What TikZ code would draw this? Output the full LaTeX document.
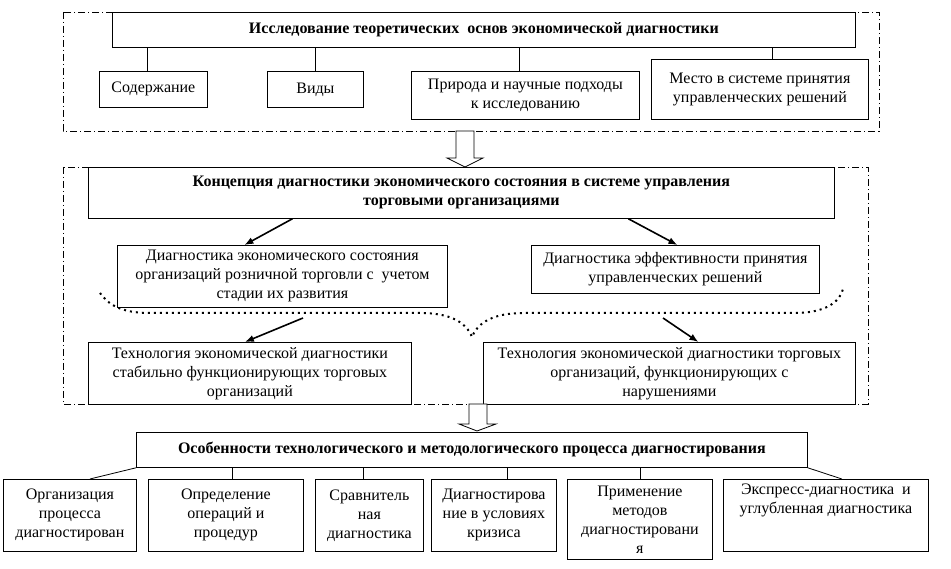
\documentclass[tikz,border=0pt]{standalone}
\usepackage{fontspec}
\setmainfont{Liberation Serif}
\usetikzlibrary{positioning,arrows.meta}

\begin{document}
\begin{tikzpicture}[x=1pt,y=-1pt,
box/.style={draw,rectangle,line width=.8pt,fill=white,inner sep=2pt,align=center,anchor=north west,font=\fontsize{16}{19}\selectfont},
headbox/.style={box,font=\fontsize{16}{19}\selectfont\bfseries},
frame/.style={line width=.8pt,dash pattern=on 7pt off 3pt on 1pt off 3pt},
link/.style={line width=.8pt},
pointer/.style={line width=1.6pt,-{Latex[length=9pt,width=7pt]}},
dotline/.style={line width=2pt,dash pattern=on 2pt off 4pt},
blockarrow/.style={draw,line width=.8pt,fill=white}]
\useasboundingbox (0,0) rectangle (951,569);

% frames
\draw[frame] (63,12) rectangle (879,131);
\draw[frame] (63,167) rectangle (868,404);

% theory
\node (theory) [headbox,minimum width=743,minimum height=35] at (112,12) {Исследование теоретических\ \ основ экономической диагностики};
\node (content) [box,minimum width=108,minimum height=36] at (99,71) {Содержание};
\node (kinds) [box,minimum width=96,minimum height=36] at (267,71) {Виды};
\node (nature) [box,minimum width=228,minimum height=48] at (411,71) {Природа и научные подходы\\к исследованию};
\node (place) [box,minimum width=217,minimum height=60] at (651,59) {Место в системе принятия\\управленческих решений};

\draw[link] ([xshift=-6pt]content.north) -- ([xshift=-6pt]content.north |- theory.south);
\draw[link] (kinds.north) -- (kinds.north |- theory.south);
\draw[link] ([xshift=-6pt]nature.north) -- ([xshift=-6pt]nature.north |- theory.south);
\draw[link] ([xshift=12pt]place.north) -- ([xshift=12pt]place.north |- theory.south);

% concept
\node (concept) [headbox,minimum width=746,minimum height=51] at (88,167) {Концепция диагностики экономического состояния в системе управления\\торговыми организациями};
\node (stateDiag) [box,minimum width=330,minimum height=62] at (117,245) {Диагностика экономического состояния\\организаций розничной торговли с\ \ учетом\\стадии их развития};
\node (decisDiag) [box,minimum width=288,minimum height=48] at (531,245) {Диагностика эффективности принятия\\управленческих решений};
\node (techStable) [box,minimum width=323,minimum height=62] at (88,342) {Технология экономической диагностики\\стабильно функционирующих торговых\\организаций};
\node (techFault) [box,minimum width=372,minimum height=62] at (483,342) {Технология экономической диагностики торговых\\организаций, функционирующих с\\нарушениями};

\draw[pointer] ([xshift=-169pt]concept.south) -- ([xshift=-38pt]stateDiag.north);
\draw[pointer] ([xshift=167pt]concept.south) -- ([xshift=2pt]decisDiag.north);

\coordinate (braceL) at (100,293);
\coordinate (braceM) at (472,337);
\coordinate (braceR) at (843,289);
\draw[dotline] (braceL) .. controls (108,304) and (120,313) .. (150,313) -- (420,313)
  .. controls (450,313) and (466,322) .. (braceM)
  .. controls (478,322) and (494,313) .. (524,313) -- (795,313)
  .. controls (825,313) and (840,302) .. (braceR);

\coordinate (splitL) at (303,318);
\coordinate (splitR) at (663,318);
\draw[pointer] (splitL) -- ([xshift=-5pt]techStable.north);
\draw[pointer] (splitR) -- ([xshift=29pt]techFault.north);

% features
\node (features) [headbox,minimum width=671,minimum height=35] at (136,432) {Особенности технологического и методологического процесса диагностирования};
\node (org) [box,minimum width=133,minimum height=72] at (3,479) {Организация\\процесса\\диагностирован};
\node (oper) [box,minimum width=155,minimum height=72] at (148,479) {Определение\\операций и\\процедур};
\node (compar) [box,minimum width=108,minimum height=72] at (315,479) {Сравнитель\\ная\\диагностика};
\node (crisis) [box,minimum width=125,minimum height=72] at (431,479) {Диагностирова\\ние в условиях\\кризиса};
\node (methods) [box,minimum width=145,minimum height=80] at (567,479) {Применение\\методов\\диагностировани\\я};
\node (express) [box,minimum width=205,minimum height=72] at (723,479) {};
\node (expressText) [below=5pt of express.north,inner sep=0,align=center,font=\fontsize{16}{19}\selectfont] {Экспресс-диагностика\ \ и\\углубленная диагностика};

\draw[link] (features.south west) -- ([xshift=20pt]org.north);
\draw[link] ([xshift=6pt]oper.north) -- ([xshift=6pt]oper.north |- features.south);
\draw[link] ([xshift=-6pt]compar.north) -- ([xshift=-6pt]compar.north |- features.south);
\draw[link] ([xshift=13pt]crisis.north) -- ([xshift=13pt]crisis.north |- features.south);
\draw[link] (methods.north) -- (methods.north |- features.south);
\draw[link] (features.south east) -- ([xshift=16pt]express.north);

% block arrows
\draw[blockarrow] (456,131) -- (456,158) -- (447,158) -- (465,167) -- (483,158) -- (474,158) -- (474,131) -- cycle;
\draw[blockarrow] (469,404) -- (469,424) -- (459,424) -- (477,431) -- (496,424) -- (487,424) -- (487,404) -- cycle;
\end{tikzpicture}
\end{document}
